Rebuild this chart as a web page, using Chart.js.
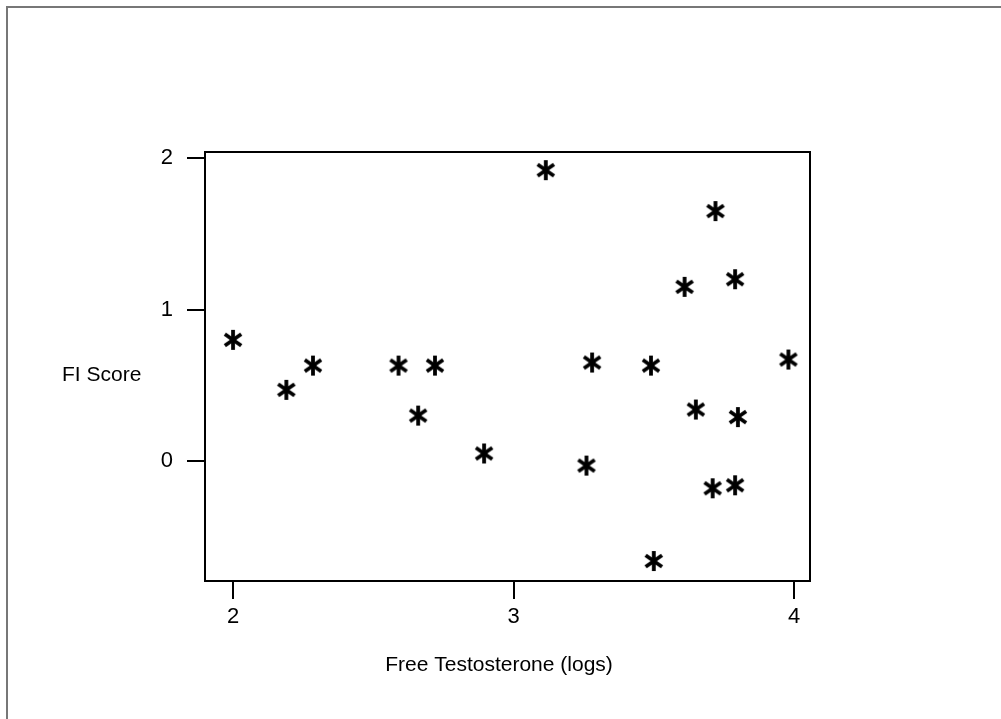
<!DOCTYPE html>
<html>
<head>
<meta charset="utf-8">
<script src="https://cdn.jsdelivr.net/npm/chart.js@4/dist/chart.umd.min.js"></script>
<style>
  html, body { margin: 0; padding: 0; background: #fff; }
  canvas { display: block; }
</style>
</head>
<body>
<canvas id="plot" width="1001" height="719"></canvas>
<script>
// free testosterone (log scale) vs FI score
const testosterone = [2.00, 2.19, 2.285, 2.59, 2.66, 2.72, 2.895, 3.115, 3.26, 3.28,
                      3.49, 3.50, 3.61, 3.65, 3.72, 3.71, 3.79, 3.80, 3.79, 3.98];
const fiScore      = [0.80, 0.47, 0.63, 0.63, 0.30, 0.63, 0.05, 1.92, -0.03, 0.65,
                      0.63, -0.66, 1.15, 0.34, 1.65, -0.18, 1.20, 0.29, -0.16, 0.67];
const xTickValues = [2, 3, 4];
const yTickValues = [0, 1, 2];
const xTitle = "Free Testosterone (logs)";
const yTitle = "FI Score";

const FONT = "'Liberation Sans', Arial, sans-serif";

// six-armed asterisk marker
const makeStar = () => {
  const s = 24;
  const c = document.createElement("canvas");
  c.width = s; c.height = s;
  const g = c.getContext("2d");
  g.strokeStyle = "#000";
  g.lineWidth = 3.8;
  g.lineCap = "butt";
  const r = 10;
  [90, 35, 145].forEach(deg => {
    const a = deg * Math.PI / 180;
    g.beginPath();
    g.moveTo(s / 2 - r * Math.cos(a), s / 2 - r * Math.sin(a));
    g.lineTo(s / 2 + r * Math.cos(a), s / 2 + r * Math.sin(a));
    g.stroke();
  });
  return c;
};

const framePlugin = {
  id: "frame",
  afterDraw(chart) {
    const { ctx, chartArea: a } = chart;
    ctx.save();
    // outer page frame (top and left only)
    ctx.strokeStyle = "#777";
    ctx.lineWidth = 2;
    ctx.beginPath();
    ctx.moveTo(7, 719);
    ctx.lineTo(7, 7);
    ctx.lineTo(1001, 7);
    ctx.stroke();
    // plot box
    ctx.strokeStyle = "#000";
    ctx.lineWidth = 2;
    ctx.strokeRect(a.left, a.top, a.right - a.left, a.bottom - a.top);
    // axis titles
    ctx.fillStyle = "#000";
    ctx.font = "21px " + FONT;
    ctx.textBaseline = "middle";
    ctx.textAlign = "left";
    ctx.fillText(yTitle, 62, 375);
    ctx.textAlign = "center";
    ctx.fillText(xTitle, 499, 665);
    ctx.restore();
  }
};

const axisCommon = {
  type: "linear",
  border: { display: true, color: "#000", width: 2 },
  grid: { drawOnChartArea: false, drawTicks: true, tickLength: 18, color: "#000", lineWidth: 2 },
  ticks: { color: "#000", font: { family: FONT, size: 22 } }
};

new Chart(document.getElementById("plot"), {
  type: "scatter",
  data: {
    datasets: [{
      data: testosterone.map((x, i) => ({ x, y: fiScore[i] })),
      pointStyle: makeStar(),
      pointRadius: 11
    }]
  },
  options: {
    responsive: false,
    devicePixelRatio: 1,
    animation: false,
    layout: { padding: { left: 0, top: 152, right: 191, bottom: 0 } },
    plugins: { legend: { display: false }, tooltip: { enabled: false } },
    scales: {
      x: {
        ...axisCommon,
        min: 1.9, max: 4.057,
        ticks: { ...axisCommon.ticks, padding: 5 },
        afterBuildTicks: s => { s.ticks = xTickValues.map(value => ({ value })); },
        afterFit: s => { s.height = 138; }
      },
      y: {
        ...axisCommon,
        min: -0.792, max: 2.04,
        ticks: { ...axisCommon.ticks, padding: 14 },
        afterBuildTicks: s => { s.ticks = yTickValues.map(value => ({ value })); },
        afterFit: s => { s.width = 205; }
      }
    }
  },
  plugins: [framePlugin]
});
</script>
</body>
</html>
